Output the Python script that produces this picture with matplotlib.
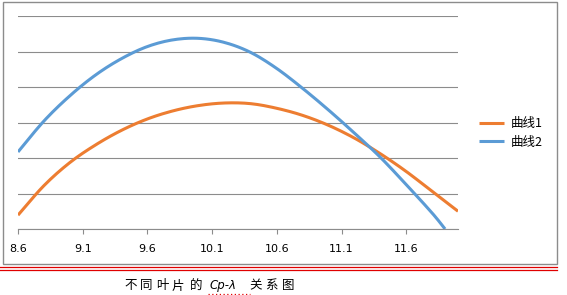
import numpy as np
import matplotlib.pyplot as plt
from matplotlib.patches import Rectangle
from matplotlib.lines import Line2D

plt.rcParams['font.family'] = ['Noto Sans CJK SC', 'DejaVu Sans']

# tip speed ratio and Cp
lam1 = [8.6, 8.8, 9.0, 9.2, 9.4, 9.6, 9.8, 10.0, 10.2, 10.4, 10.6, 10.8,
        11.0, 11.2, 11.4, 11.6, 11.8, 12.0]
cp1 = [0.039, 0.122, 0.187, 0.237, 0.278, 0.31, 0.333, 0.348, 0.355, 0.353,
       0.340, 0.320, 0.292, 0.256, 0.212, 0.162, 0.106, 0.05]
lam2 = [8.6, 8.8, 9.0, 9.2, 9.4, 9.6, 9.8, 10.0, 10.2, 10.4, 10.6, 10.8,
        11.0, 11.2, 11.4, 11.6, 11.8, 11.9]
cp2 = [0.217, 0.304, 0.375, 0.434, 0.48, 0.514, 0.533, 0.537, 0.525, 0.497,
       0.452, 0.396, 0.335, 0.27, 0.202, 0.125, 0.045, 0.0]

xticks = [8.6, 9.1, 9.6, 10.1, 10.6, 11.1, 11.6]
labels = ['曲线1', '曲线2']
colors = ['#ED7D31', '#5B9BD5']
caption = ['不', '同', '叶', '片', '的', 'Cp-λ', '关', '系', '图']


def smooth(x, y, n=12):
    # catmull-rom through the points, like excel's "smoothed line"
    x = np.asarray(x, float)
    y = np.asarray(y, float)
    px = np.concatenate([[2 * x[0] - x[1]], x, [2 * x[-1] - x[-2]]])
    py = np.concatenate([[2 * y[0] - y[1]], y, [2 * y[-1] - y[-2]]])
    t = np.linspace(0, 1, n, endpoint=False)
    xs, ys = [], []
    for i in range(1, len(px) - 2):
        for p, out in ((px, xs), (py, ys)):
            p0, p1, p2, p3 = p[i - 1], p[i], p[i + 1], p[i + 2]
            out.extend(0.5 * (2 * p1 + (-p0 + p2) * t + (2 * p0 - 5 * p1 + 4 * p2 - p3) * t ** 2
                              + (-p0 + 3 * p1 - 3 * p2 + p3) * t ** 3))
    xs.append(x[-1])
    ys.append(y[-1])
    return xs, ys


W, H = 567, 295
fig = plt.figure(figsize=(W / 100, H / 100), dpi=100)

# outer chart frame and the red double rule under it
fig.patches.append(Rectangle((3 / W, 1 - 264 / H), 554 / W, 262 / H, transform=fig.transFigure,
                             fill=False, edgecolor='#8c8c8c', linewidth=1.0))
for yy in [267, 269.5]:
    fig.lines.append(Line2D([0 / W, 557 / W], [1 - yy / H, 1 - yy / H], transform=fig.transFigure,
                            color='#e00000', linewidth=0.9))

ax = fig.add_axes([18 / W, 1 - 229 / H, 440 / W, 213 / H])
ax.plot(*smooth(lam1, cp1), color=colors[0], linewidth=2.2, label=labels[0], solid_capstyle='butt')
ax.plot(*smooth(lam2, cp2), color=colors[1], linewidth=2.2, label=labels[1], solid_capstyle='butt')

ax.set_xlim(8.6, 12.0)
ax.set_ylim(0, 0.6)
ax.set_yticks(np.arange(0, 0.61, 0.1))
ax.set_yticklabels([])
ax.tick_params(axis='y', length=0)
ax.set_xticks(xticks)
ax.set_xticklabels([str(t) for t in xticks], fontsize=8, family='DejaVu Sans')
ax.tick_params(axis='x', direction='out', length=3.6, color='#8c8c8c', pad=7)
ax.grid(axis='y', color='#8c8c8c', linewidth=0.8)
ax.set_axisbelow(True)
for s in ['top', 'right', 'left']:
    ax.spines[s].set_visible(False)
ax.spines['bottom'].set_color('#8c8c8c')
ax.spines['bottom'].set_linewidth(0.8)

fig.legend(loc='center left', bbox_to_anchor=(468 / W, 1 - 133 / H), frameon=False,
           fontsize=9, handlelength=2.0, handletextpad=0.5, labelspacing=0.45)

# caption, piece by piece to keep the wide spacing of the original
cx = [131, 146, 162, 178, 196, 223.5, 256, 271, 288]
for ch, x in zip(caption, cx):
    if ch == 'Cp-λ':
        fig.text(x / W, 1 - 286 / H, ch, ha='center', va='center', fontsize=8.5,
                 style='italic', family='DejaVu Sans')
    else:
        fig.text(x / W, 1 - 286 / H, ch, ha='center', va='center', fontsize=9,
                 family=['Noto Sans CJK SC', 'DejaVu Sans'])
fig.lines.append(Line2D([208 / W, 250 / W], [1 - 294 / H, 1 - 294 / H], transform=fig.transFigure,
                        color='#e00000', linewidth=0.9, linestyle=(0, (1, 2))))

fig.savefig('out.png', dpi=100)
